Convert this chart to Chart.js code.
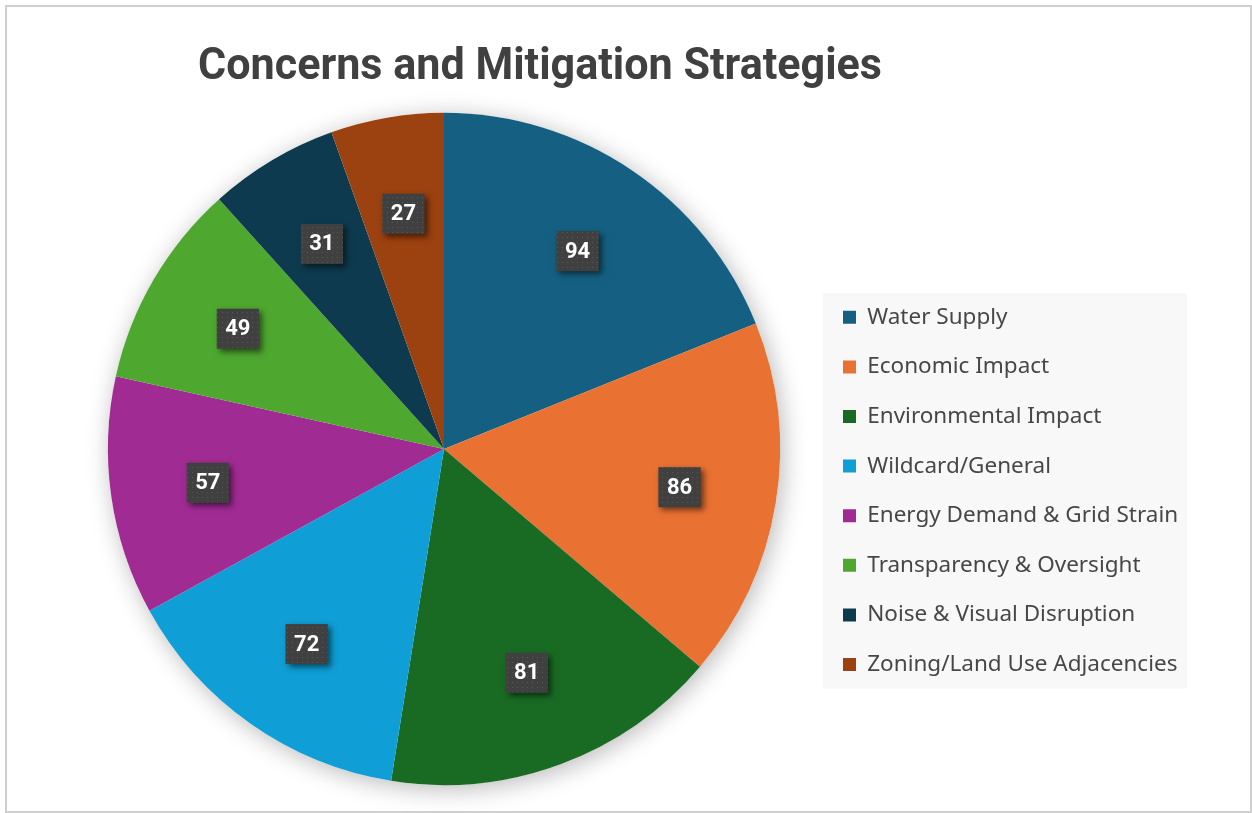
<!DOCTYPE html>
<html>
<head>
<meta charset="utf-8">
<script src="https://cdn.jsdelivr.net/npm/chart.js@4.4.1/dist/chart.umd.min.js"></script>
<style>
  html, body { margin: 0; padding: 0; background: #fff; overflow: hidden; }
  canvas { display: block; }
</style>
</head>
<body>
<canvas id="pieChart" width="1252" height="813"></canvas>
<script>
const chartTitle = 'Concerns and Mitigation Strategies';
const categories = [
  'Water Supply',
  'Economic Impact',
  'Environmental Impact',
  'Wildcard/General',
  'Energy Demand & Grid Strain',
  'Transparency & Oversight',
  'Noise & Visual Disruption',
  'Zoning/Land Use Adjacencies'
];
const counts = [94, 86, 81, 72, 57, 49, 31, 27];
const sliceColors = ['#156082', '#E97132', '#196B24', '#0F9ED5', '#A02B93', '#4EA72E', '#0D3A4E', '#9C4110'];

const legendFont = { family: '"Noto Sans", sans-serif', size: 22.5 };
const legendPad = 27.1;
const legendBox = 13;

// legend width decides where the pie sits, so measure the longest label
const m = document.createElement('canvas').getContext('2d');
m.font = legendFont.size + 'px ' + legendFont.family;
const widest = Math.max(...categories.map(c => m.measureText(c).width));
const legendLeft = 843 - legendPad;
const padLeft = 2 * 444 - legendLeft;
const padRight = 1252 - legendLeft - (10 + legendPad + legendBox + legendFont.size / 2 + widest);

// dotted fill for the value boxes
const dotTile = document.createElement('canvas');
dotTile.width = dotTile.height = 5;
const dt = dotTile.getContext('2d');
dt.fillStyle = 'rgba(255,255,255,0.13)';
dt.fillRect(2, 2, 1, 1);

const decor = {
  id: 'decor',
  afterLayout(chart) {
    // Excel puts the title a bit left of the full width centre
    const t = chart.titleBlock;
    t.left = 198;
    t.right = 882;
  },
  beforeDraw(chart) {
    const ctx = chart.ctx;
    ctx.save();
    ctx.fillStyle = '#fff';
    ctx.fillRect(0, 0, chart.width, chart.height);
    ctx.strokeStyle = '#cfcfcf';
    ctx.lineWidth = 2;
    ctx.strokeRect(6, 6, chart.width - 7, chart.height - 7);

    // grey panel behind the legend
    const hb = chart.legend.legendHitBoxes;
    const first = hb[0], last = hb[hb.length - 1];
    const top = first.top + first.height / 2 - 24;
    const bottom = last.top + last.height / 2 + 24;
    ctx.fillStyle = '#f8f8f8';
    ctx.fillRect(first.left - 20, top, 364, bottom - top);
    ctx.restore();
  },
  beforeDatasetsDraw(chart) {
    const arc = chart.getDatasetMeta(0).data[0];
    if (!arc) return;
    const ctx = chart.ctx;
    ctx.save();
    ctx.shadowColor = 'rgba(0,0,0,0.28)';
    ctx.shadowBlur = 24;
    ctx.shadowOffsetX = 3;
    ctx.shadowOffsetY = 4;
    ctx.fillStyle = '#fff';
    ctx.beginPath();
    ctx.arc(arc.x, arc.y, arc.outerRadius, 0, Math.PI * 2);
    ctx.fill();
    ctx.restore();
  },
  afterDatasetsDraw(chart) {
    const ctx = chart.ctx;
    const meta = chart.getDatasetMeta(0);
    const pat = ctx.createPattern(dotTile, 'repeat');
    ctx.save();
    ctx.font = 'bold 22px Roboto';
    ctx.textAlign = 'center';
    ctx.textBaseline = 'middle';
    meta.data.forEach((arc, i) => {
      const p = arc.getProps(['x', 'y', 'startAngle', 'endAngle', 'outerRadius'], true);
      const a = (p.startAngle + p.endAngle) / 2;
      const r = p.outerRadius * 0.71;
      const x = p.x + Math.cos(a) * r;
      const y = p.y + Math.sin(a) * r;
      const text = String(chart.data.datasets[0].data[i]);
      const w = ctx.measureText(text).width + 17;
      const h = 40;

      ctx.save();
      ctx.shadowColor = 'rgba(0,0,0,0.55)';
      ctx.shadowBlur = 6;
      ctx.shadowOffsetX = 3;
      ctx.shadowOffsetY = 3;
      ctx.fillStyle = '#404040';
      ctx.fillRect(x - w / 2, y - h / 2, w, h);
      ctx.restore();

      ctx.fillStyle = pat;
      ctx.fillRect(x - w / 2, y - h / 2, w, h);
      ctx.fillStyle = '#fff';
      ctx.fillText(text, x, y + 1);
    });
    ctx.restore();
  }
};

new Chart(document.getElementById('pieChart'), {
  type: 'pie',
  data: {
    labels: categories,
    datasets: [{
      data: counts,
      backgroundColor: sliceColors,
      borderWidth: 0
    }]
  },
  options: {
    responsive: false,
    animation: false,
    events: [],
    layout: {
      padding: { top: 20, bottom: 28, left: padLeft, right: padRight }
    },
    plugins: {
      title: {
        display: true,
        text: chartTitle,
        color: '#404040',
        font: { family: 'Roboto', size: 44, weight: 'bold', lineHeight: 1.2 },
        padding: { top: 22, bottom: 18 }
      },
      legend: {
        position: 'right',
        align: 'center',
        fullSize: false,
        title: {
          display: true,
          text: ' ',
          font: { size: 1, lineHeight: 1 },
          padding: { top: 83, bottom: 0 }
        },
        labels: {
          boxWidth: legendBox,
          boxHeight: legendBox,
          padding: legendPad,
          color: '#474747',
          font: legendFont
        }
      },
      tooltip: { enabled: false }
    }
  },
  plugins: [decor]
});
</script>
</body>
</html>
